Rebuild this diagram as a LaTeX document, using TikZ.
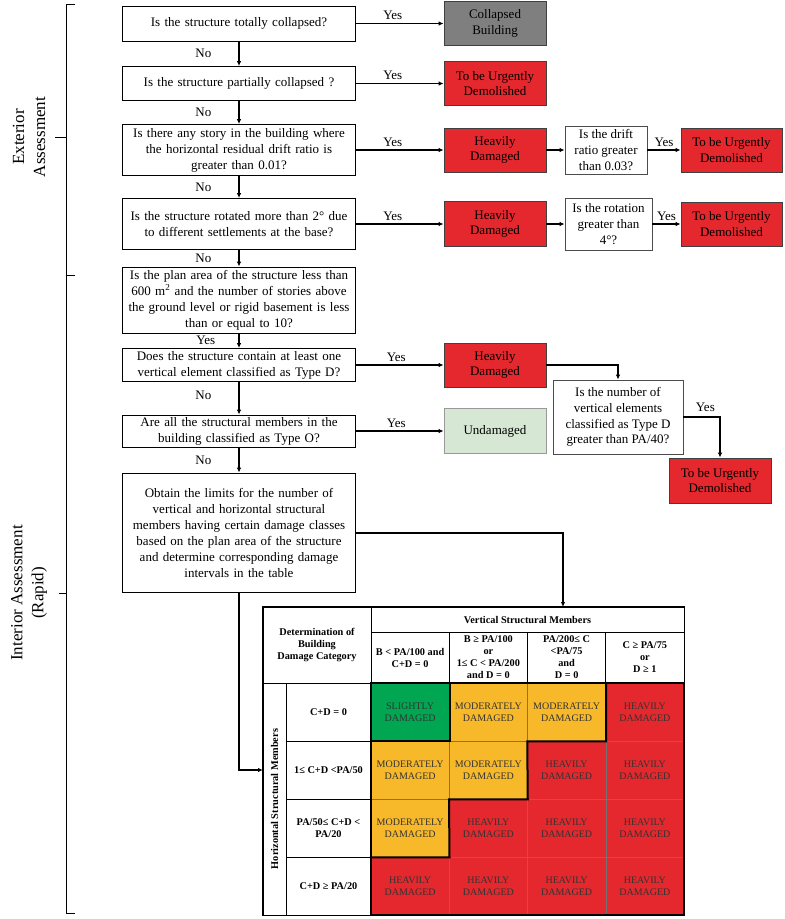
\documentclass[tikz,border=0pt]{standalone}
\usepackage{fontspec}
\setmainfont{Liberation Serif}
\usetikzlibrary{arrows.meta,positioning,calc}
\definecolor{dmgred}{RGB}{228,40,45}
\definecolor{colgray}{RGB}{127,127,127}
\definecolor{undgreen}{RGB}{214,232,212}
\definecolor{slgreen}{RGB}{0,166,81}
\definecolor{modyel}{RGB}{247,185,42}

\begin{document}
\begin{tikzpicture}[x=1pt,y=-1pt,
    qbox/.style={draw,line width=0.8pt,text width=228pt,inner xsep=2.5pt,inner ysep=0pt,
        align=center,font=\fontsize{13}{16}\selectfont},
    rbox/.style={draw=black!75,line width=0.8pt,fill=dmgred,minimum width=102pt,
        minimum height=44pt,inner sep=0pt,align=center,font=\fontsize{13}{15.5}\selectfont},
    sbox/.style={draw=black!70,line width=0.8pt,inner sep=0pt,align=center,
        font=\fontsize{13}{15.7}\selectfont},
    arr/.style={-{Latex[length=5pt,width=4.5pt]},line width=1.4pt},
    lbl/.style={font=\fontsize{13}{15}\selectfont,inner sep=1pt},
    side/.style={align=center,font=\fontsize{17}{21}\selectfont,inner sep=0pt},
    hdr/.style={draw,line width=0.6pt,inner sep=0pt,align=center,
        font=\bfseries\fontsize{10.3}{12}\selectfont},
    cell/.style={draw=black!55,line width=0.5pt,minimum width=78.25pt,minimum height=58pt,
        inner sep=0pt,align=center,text=black!80,font=\fontsize{10}{11.5}\selectfont},
    thickln/.style={line width=2pt,line cap=rect}]

    \useasboundingbox (0,0) rectangle (785,919);

    % Left braces
    \draw[line width=0.8pt] (75,4) -- (66,4) -- (66,275) -- (75,275);
    \draw[line width=0.8pt] (55,137) -- (66,137);
    \draw[line width=0.8pt] (75,275) -- (66,275) -- (66,913) -- (75,913);
    \draw[line width=0.8pt] (59,593) -- (66,593);
    \node[side,rotate=90] (ext) at (29,137) {Exterior\\Assessment};
    \node[side,rotate=90] (int) at (29,593) {Interior Assessment\\(Rapid)};

    % Main questions
    \node[qbox,minimum height=35pt] (q1) at (239,23.5) {Is the structure totally collapsed?};
    \node[qbox,minimum height=34pt] (q2) at (239,83.5) {Is the structure partially collapsed ?};
    \node[qbox,minimum height=51pt] (q3) at (239,150) {Is there any story in the building where\\the horizontal residual drift ratio is\\greater than 0.01?};
    \node[qbox,minimum height=51pt] (q4) at (239,224) {Is the structure rotated more than 2° due\\to different settlements at the base?};
    \node[qbox,minimum height=66pt] (q5) at (239,300) {Is the plan area of the structure less than\\600 m\textsuperscript{2} and the number of stories above\\the ground level or rigid basement is less\\than or equal to 10?};
    \node[qbox,minimum height=33pt] (q6) at (239,365) {Does the structure contain at least one\\vertical element classified as Type D?};
    \node[qbox,minimum height=32pt] (q7) at (239,431) {Are all the structural members in the\\building classified as Type O?};
    \node[qbox,minimum height=119pt] (q8) at (239,532.5) {Obtain the limits for the number of\\vertical and horizontal structural\\members having certain damage classes\\based on the plan area of the structure\\and determine corresponding damage\\intervals in the table};

    % Outcomes
    \node[rbox,fill=colgray] (r1) at (495,23.5) {Collapsed\\Building};
    \node[rbox] (r2) at (495,83.5) {To be Urgently\\Demolished};
    \node[rbox] (r3) at (495,150) {Heavily\\Damaged};
    \node[rbox,minimum height=45pt] (r4) at (495,224) {Heavily\\Damaged};
    \node[rbox] (r6) at (495,365) {Heavily\\Damaged};
    \node[rbox,fill=undgreen,draw=black!40,minimum height=45pt] (r7) at (495,431) {Undamaged};

    \node[sbox,minimum width=82pt,minimum height=48pt] (d3) at (606,150) {Is the drift\\ratio greater\\than 0.03?};
    \node[sbox,minimum width=87pt,minimum height=52pt] (d4) at (608.5,224) {Is the rotation\\greater than\\4°?};
    \node[sbox,minimum width=130pt,minimum height=74pt] (d6) at (618,417) {Is the number of\\vertical elements\\classified as Type D\\greater than PA/40?};

    \node[rbox,minimum width=101pt] (u3) at (731.5,150) {To be Urgently\\Demolished};
    \node[rbox,minimum width=101pt] (u4) at (731.5,224) {To be Urgently\\Demolished};
    \node[rbox,minimum height=45pt] (u6) at (720,480.5) {To be Urgently\\Demolished};

    % Yes / No connectors
    \draw[arr] (q1) -- node[lbl,pos=0.42,above=2pt] {Yes} (r1);
    \draw[arr] (q2) -- node[lbl,pos=0.42,above=2pt] {Yes} (r2);
    \draw[arr] (q3) -- node[lbl,pos=0.42,above=2pt] {Yes} (r3);
    \draw[arr] (q4) -- node[lbl,pos=0.42,above=2pt] {Yes} (r4);
    \draw[arr] (q6) -- node[lbl,pos=0.46,above=2pt] {Yes} (r6);
    \draw[arr] (q7) -- node[lbl,pos=0.46,above=2pt] {Yes} (r7);
    \draw[arr] (r3) -- (d3);
    \draw[arr] (r4) -- (d4);
    \draw[arr] (d3) -- node[lbl,midway,above=2pt] {Yes} (u3);
    \draw[arr] (d4) -- node[lbl,midway,above=2pt] {Yes} (u4);
    \draw[arr] (r6.east) -| (d6.north);
    \draw[arr] (d6.east) -| node[lbl,pos=0.3,above=4pt] {Yes} (u6.north);

    \draw[arr] (q1) -- node[lbl,midway,left=26pt] {No} (q2);
    \draw[arr] (q2) -- node[lbl,midway,left=26pt] {No} (q3);
    \draw[arr] (q3) -- node[lbl,midway,left=26pt] {No} (q4);
    \draw[arr] (q4) -- node[lbl,midway,left=26pt] {No} (q5);
    \draw[arr] (q5) -- node[lbl,midway,left=22pt] {Yes} (q6);
    \draw[arr] (q6) -- node[lbl,pos=0.4,left=26pt] {No} (q7);
    \draw[arr] (q7) -- node[lbl,midway,left=26pt] {No} (q8);

    % Table
    \node[hdr,minimum width=108pt,minimum height=76pt] (dtm) at (317,645) {Determination of\\Building\\Damage Category};
    \node[hdr,minimum width=313pt,minimum height=25pt] (vsm) at (527.5,619.5) {Vertical Structural Members};
    \foreach \c/\txt in {1/{B < PA/100 and\\C+D = 0},
                         2/{B ≥ PA/100\\or\\1≤ C < PA/200\\and D = 0},
                         3/{PA/200≤ C\\<PA/75\\and\\D = 0},
                         4/{C ≥ PA/75\\or\\D ≥ 1}}
        \node[hdr,minimum width=78.25pt,minimum height=51pt] (v\c) at ({371+(\c-0.5)*78.25},657.5) {\txt};
    \node[hdr,rotate=90,minimum width=232pt,minimum height=23pt] (hsm) at (274.5,799) {Horizontal Structural Members};
    \foreach \r/\txt in {1/{C+D = 0},2/{1≤ C+D <PA/50},3/{PA/50≤ C+D <\\PA/20},4/{C+D ≥ PA/20}}
        \node[hdr,minimum width=85pt,minimum height=58pt] (h\r) at (328.5,{683+(\r-0.5)*58}) {\txt};

    \foreach \r/\c/\clr/\wrd in {1/1/slgreen/SLIGHTLY,1/2/modyel/MODERATELY,1/3/modyel/MODERATELY,1/4/dmgred/HEAVILY,
                                 2/1/modyel/MODERATELY,2/2/modyel/MODERATELY,2/3/dmgred/HEAVILY,2/4/dmgred/HEAVILY,
                                 3/1/modyel/MODERATELY,3/2/dmgred/HEAVILY,3/3/dmgred/HEAVILY,3/4/dmgred/HEAVILY,
                                 4/1/dmgred/HEAVILY,4/2/dmgred/HEAVILY,4/3/dmgred/HEAVILY,4/4/dmgred/HEAVILY}
        \node[cell,fill=\clr] (c\r\c) at ({371+(\c-0.5)*78.25},{683+(\r-0.5)*58}) {\wrd\\DAMAGED};

    \draw[line width=0.9pt] (dtm.north west) rectangle (c44.south east);
    \draw[thickln] (c11.north west) rectangle (c44.south east);
    \draw[thickln] (c11.north east) -- (c11.south east) -- (c11.south west);
    \draw[thickln] (c13.north east) -- (c13.south east) -- (c13.south west) -- (c22.south east)
        -- (c22.south west) -- (c31.south east) -- (c31.south west);

    % Into the table
    \coordinate (tabtop) at (563,607);
    \coordinate (tabin) at (263,770);
    \draw[arr] (q8.east |- 0,533) -| (tabtop);
    \draw[arr] (q8.south) |- (tabin);
\end{tikzpicture}
\end{document}
